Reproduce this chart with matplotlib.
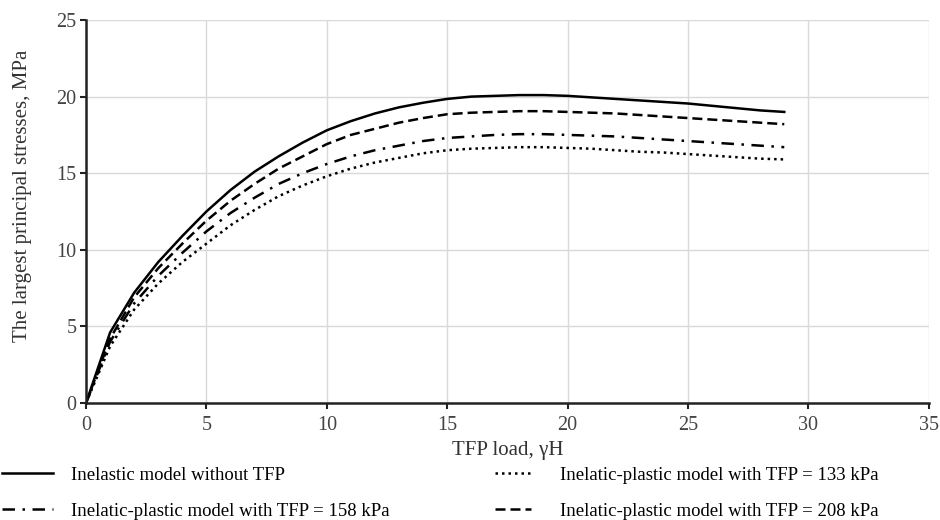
import matplotlib
matplotlib.use("Agg")
import matplotlib.pyplot as plt

x = list(range(0, 30))
solid = [0, 4.6, 7.2, 9.2, 10.9, 12.5, 13.9, 15.1, 16.1, 17.0, 17.8, 18.4, 18.9, 19.3, 19.6,
         19.85, 20.0, 20.05, 20.1, 20.1, 20.05, 19.95, 19.85, 19.75, 19.65, 19.55, 19.4, 19.25, 19.1, 19.0]
tfp208 = [0, 4.2, 6.9, 8.8, 10.4, 11.9, 13.2, 14.3, 15.3, 16.1, 16.9, 17.5, 17.9, 18.3, 18.6,
          18.85, 18.95, 19.0, 19.05, 19.05, 19.0, 18.95, 18.9, 18.8, 18.7, 18.6, 18.5, 18.4, 18.3, 18.2]
tfp158 = [0, 4.0, 6.5, 8.3, 9.8, 11.2, 12.4, 13.4, 14.3, 15.0, 15.6, 16.1, 16.5, 16.8, 17.1,
          17.3, 17.4, 17.5, 17.55, 17.55, 17.5, 17.45, 17.4, 17.3, 17.2, 17.1, 17.0, 16.9, 16.8, 16.7]
tfp133 = [0, 3.7, 6.1, 7.8, 9.2, 10.4, 11.6, 12.6, 13.5, 14.2, 14.8, 15.3, 15.7, 16.0, 16.3,
          16.5, 16.6, 16.65, 16.7, 16.7, 16.65, 16.6, 16.5, 16.4, 16.35, 16.25, 16.15, 16.05, 15.95, 15.9]

labels = ["Inelastic model without TFP",
          "Inelatic-plastic model with TFP = 133 kPa",
          "Inelatic-plastic model with TFP = 158 kPa",
          "Inelatic-plastic model with TFP = 208 kPa"]
xticks = [0, 5, 10, 15, 20, 25, 30, 35]
yticks = [0, 5, 10, 15, 20, 25]

plt.rcParams['font.family'] = ['Liberation Serif', 'DejaVu Serif']

fig = plt.figure(figsize=(9.4, 5.2), dpi=100)
ax = fig.add_axes([0.0915, 0.225, 0.8965, 0.7365])

l1, = ax.plot(x, solid, color='black', lw=1.8, linestyle='-', label=labels[0])
l2, = ax.plot(x, tfp133, color='black', lw=1.8, linestyle=(0, (1, 1.6)), label=labels[1])
l3, = ax.plot(x, tfp158, color='black', lw=1.8, linestyle=(0, (5, 3, 1, 3)), label=labels[2])
l4, = ax.plot(x, tfp208, color='black', lw=1.8, linestyle=(0, (4, 2)), label=labels[3])

ax.set_xlim(0, 35)
ax.set_ylim(0, 25)
ax.set_xticks(xticks)
ax.set_yticks(yticks)
ax.grid(True, color='#d9d9d9', lw=1.0)
ax.set_axisbelow(True)
for s in ['top', 'right']:
    ax.spines[s].set_visible(False)
for s in ['left', 'bottom']:
    ax.spines[s].set_linewidth(1.8)
    ax.spines[s].set_color('#222222')
ax.tick_params(axis='both', labelsize=14.5, colors='#222222', labelcolor='#444444',
               length=4, width=1.5)
ax.tick_params(axis='x', pad=5)
ax.tick_params(axis='y', pad=3)
ax.set_xlabel("TFP load, γH", fontsize=15, color='#333333', labelpad=5)
ax.set_ylabel("The largest principal stresses, MPa", fontsize=15, color='#333333')
ax.yaxis.set_label_coords(-0.064, 0.54)

ycen = 1 - 493 / 520
leg1 = fig.legend(handles=[l1, l3], labels=[labels[0], labels[2]], loc='center left',
                  bbox_to_anchor=(0.002, ycen), frameon=False, fontsize=13.5,
                  handlelength=2.7, handletextpad=1.0, labelspacing=1.0,
                  borderpad=0, borderaxespad=0)
leg2 = fig.legend(handles=[l2, l4], labels=[labels[1], labels[3]], loc='center left',
                  bbox_to_anchor=(0.5266, ycen), frameon=False, fontsize=13.5,
                  handlelength=1.9, handletextpad=1.55, labelspacing=1.0,
                  borderpad=0, borderaxespad=0)

fig.savefig("out.png", dpi=100)
